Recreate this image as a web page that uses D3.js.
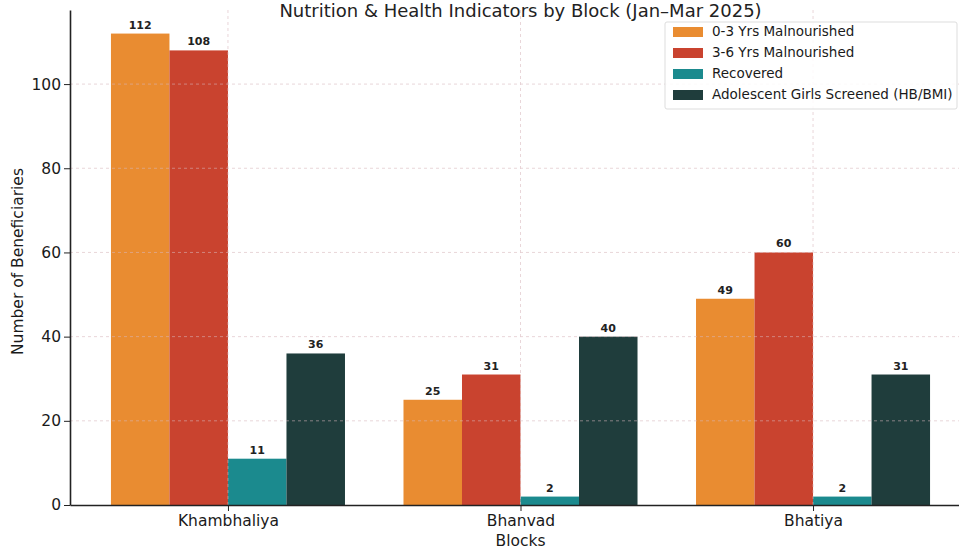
<!DOCTYPE html>
<html>
<head>
<meta charset="utf-8">
<script src="https://cdn.jsdelivr.net/npm/d3@7"></script>
<style>
  body { margin: 0; background: #fff; overflow: hidden; }
  svg { display: block; font-family: "DejaVu Sans", sans-serif; }
</style>
</head>
<body>
<div id="chart"></div>
<script>
// data
var blocks = ["Khambhaliya", "Bhanvad", "Bhatiya"];
var seriesNames = ["0-3 Yrs Malnourished", "3-6 Yrs Malnourished", "Recovered", "Adolescent Girls Screened (HB/BMI)"];
var under3 = [112, 25, 49];
var from3to6 = [108, 31, 60];
var recovered = [11, 2, 2];
var adolescentGirls = [36, 40, 31];
var yTicks = [0, 20, 40, 60, 80, 100];

var seriesValues = [under3, from3to6, recovered, adolescentGirls];
var colors = ["#e98c31", "#c9432f", "#1b8a8e", "#1f3d3c"];

var width = 959, height = 550;
// plot area (the right side runs a little past the photo edge)
var margin = {top: 10, left: 70, right: 971, bottom: 505};

var svg = d3.select("#chart").append("svg")
    .attr("width", width)
    .attr("height", height);

var barW = 0.2;
var xScale = d3.scaleLinear()
    .domain([-0.54, blocks.length - 1 + 0.54])
    .range([margin.left, margin.right]);

var yScale = d3.scaleLinear()
    .domain([0, 117.6])
    .range([margin.bottom, margin.top]);

// bars
for (var s = 0; s < seriesValues.length; s++) {
    var offset = (s - 1.5) * barW;
    var g = svg.append("g");
    g.selectAll("rect")
        .data(seriesValues[s])
        .enter().append("rect")
        .attr("x", function(d, i) { return xScale(i + offset - barW / 2); })
        .attr("width", xScale(barW) - xScale(0))
        .attr("y", function(d) { return yScale(d); })
        .attr("height", function(d) { return yScale(0) - yScale(d); })
        .attr("fill", colors[s]);
    g.selectAll("text")
        .data(seriesValues[s])
        .enter().append("text")
        .attr("x", function(d, i) { return xScale(i + offset); })
        .attr("y", function(d) { return yScale(d) - 5; })
        .attr("text-anchor", "middle")
        .style("font-size", "11px")
        .style("font-weight", "600")
        .attr("fill", "#222")
        .text(function(d) { return d; });
}

// dashed grid, drawn over the bars like in the picture
var grid = svg.append("g").attr("stroke", "#d9b8bd").attr("stroke-dasharray", "3,3")
    .attr("stroke-width", 0.8).attr("opacity", 0.7);
grid.selectAll("line.h")
    .data(yTicks.slice(1))
    .enter().append("line")
    .attr("x1", margin.left).attr("x2", margin.right)
    .attr("y1", function(d) { return yScale(d); })
    .attr("y2", function(d) { return yScale(d); });
grid.selectAll("line.v")
    .data(blocks)
    .enter().append("line")
    .attr("x1", function(d, i) { return xScale(i); })
    .attr("x2", function(d, i) { return xScale(i); })
    .attr("y1", margin.top).attr("y2", margin.bottom);

// axes
var xAxis = svg.append("g")
    .attr("transform", "translate(0," + margin.bottom + ")")
    .call(d3.axisBottom(xScale).tickValues([0, 1, 2]).tickFormat(function(d) { return blocks[d]; }).tickSizeOuter(0));
var yAxis = svg.append("g")
    .attr("transform", "translate(" + margin.left + ",0)")
    .call(d3.axisLeft(yScale).tickValues(yTicks).tickSizeOuter(0));

[xAxis, yAxis].forEach(function(ax) {
    ax.select(".domain").attr("stroke", "#222").attr("stroke-width", 1.6);
    ax.selectAll(".tick line").attr("stroke", "#222");
    ax.selectAll(".tick text").style("font-size", "15.5px").style("font-family", "DejaVu Sans").attr("fill", "#1a1a1a");
});
xAxis.selectAll(".tick text").attr("dy", "0.8em");

// axis titles
svg.append("text")
    .attr("x", xScale(1)).attr("y", 546)
    .attr("text-anchor", "middle")
    .style("font-size", "15.5px").attr("fill", "#1a1a1a")
    .text("Blocks");
svg.append("text")
    .attr("transform", "translate(23," + ((margin.top + margin.bottom) / 2 + 4) + ") rotate(-90)")
    .attr("text-anchor", "middle")
    .style("font-size", "15.5px").attr("fill", "#1a1a1a")
    .text("Number of Beneficiaries");

// title at the top edge
svg.append("text")
    .attr("x", xScale(1)).attr("y", 17)
    .attr("text-anchor", "middle")
    .style("font-size", "18px").attr("fill", "#222")
    .text("Nutrition & Health Indicators by Block (Jan\u2013Mar 2025)");

// legend
var legend = svg.append("g").attr("transform", "translate(665,22)");
legend.append("rect")
    .attr("width", 292).attr("height", 87)
    .attr("fill", "#fff").attr("fill-opacity", 0.85)
    .attr("stroke", "#ddd").attr("rx", 2);
seriesNames.forEach(function(name, i) {
    legend.append("rect")
        .attr("x", 8).attr("y", 5 + i * 21)
        .attr("width", 30).attr("height", 10)
        .attr("fill", colors[i]);
    legend.append("text")
        .attr("x", 47).attr("y", 10 + i * 21)
        .attr("dominant-baseline", "middle")
        .style("font-size", "13.5px").attr("fill", "#1a1a1a")
        .text(name);
});
</script>
</body>
</html>
